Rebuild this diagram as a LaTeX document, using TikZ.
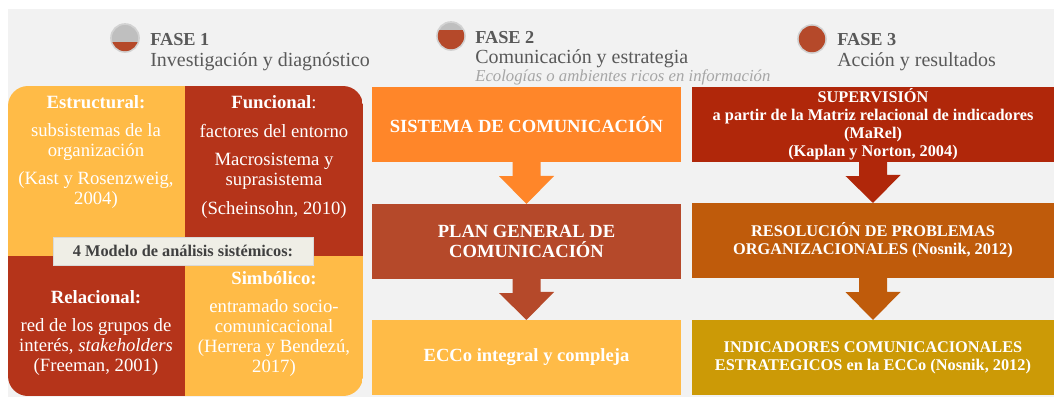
\documentclass[tikz,border=0pt]{standalone}
\usepackage{fontspec}
\setmainfont{Liberation Serif}
\usetikzlibrary{calc}
\definecolor{fondo}{HTML}{F2F2F2}
\definecolor{amarillo}{HTML}{FFBB47}
\definecolor{rojo}{HTML}{B5341A}
\definecolor{naranja}{HTML}{FF8629}
\definecolor{teja}{HTML}{B5492A}
\definecolor{rojoB}{HTML}{B0270A}
\definecolor{ocre}{HTML}{BF5B0B}
\definecolor{mostaza}{HTML}{CC9A06}
\definecolor{gristexto}{HTML}{595959}
\definecolor{grisclaro}{HTML}{A6A6A6}
\definecolor{crema}{HTML}{EFEEE6}
\tikzset{
	quad/.style={text=white, align=center, font=\fontsize{13.3}{14.2}\selectfont},
	midbox/.style={minimum width=7.725cm, minimum height=1.875cm, inner sep=0pt, outer sep=0pt,
		text=white, align=center, font=\bfseries\fontsize{13.2}{13.8}\selectfont},
	rightbox/.style={minimum width=9.05cm, minimum height=1.875cm, inner sep=0pt, outer sep=0pt,
		text=white, align=center, font=\bfseries\fontsize{11.6}{12.8}\selectfont},
	fase/.style={anchor=base west, inner sep=0pt, text=gristexto, font=\bfseries\fontsize{13}{15}\selectfont},
	subfase/.style={anchor=base west, inner sep=0pt, text=gristexto, font=\fontsize{14.2}{15}\selectfont},
	dot/.style={circle, minimum size=0.7cm, inner sep=0pt, fill=gray!50, draw=gray!35, line width=1.2pt},
}
\begin{document}
\begin{tikzpicture}[x=0.025cm,y=-0.025cm]
	\useasboundingbox (0,0) rectangle (1054,397);
	\fill[fondo] (8,9) rectangle (1054,397);

	% fases
	\node[dot] (d1) at (125,38) {};
	\node[dot] (d2) at (451,36) {};
	\node[dot] (d3) at (812,39) {};
	\begin{scope}
		\clip (d1.center) circle (0.33cm);
		\fill[teja] ($(d1.center)+(-15,4)$) rectangle ($(d1.center)+(15,15)$);
	\end{scope}
	\begin{scope}
		\clip (d2.center) circle (0.33cm);
		\fill[teja] ($(d2.center)+(-15,-6)$) rectangle ($(d2.center)+(15,15)$);
	\end{scope}
	\fill[teja] (d3.center) circle (0.33cm);

	\node[fase] (f1) at (150,45) {FASE 1};
	\node[subfase] (s1) at (150,66) {Investigación y diagnóstico};
	\node[fase] (f2) at (475,43) {FASE 2};
	\node[subfase] (s2) at (475,63) {Comunicación y estrategia};
	\node[subfase, text=grisclaro, font=\itshape\fontsize{11.9}{13}\selectfont] (e2) at (475,81) {Ecologías o ambientes ricos en información};
	\node[fase] (f3) at (837,45) {FASE 3};
	\node[subfase] (s3) at (837,66) {Acción y resultados};

	% fase 1: cuadrantes
	\begin{scope}
		\clip[rounded corners=0.5cm] (8,86) rectangle (363,396);
		\fill[amarillo] (8,86) rectangle (185,256);
		\fill[rojo] (185,86) rectangle (363,256);
		\fill[rojo] (8,256) rectangle (185,396);
		\fill[amarillo] (185,256) rectangle (363,396);
	\end{scope}
	\node[quad] (q1) at (96,152) {\textbf{Estructural:}\\[6pt] subsistemas de la\\ organización\\[6pt] (Kast y Rosenzweig,\\ 2004)};
	\node[quad] (q2) at (274,157) {\textbf{Funcional}:\\[6pt] factores del entorno\\[6pt] Macrosistema y\\ suprasistema\\[6pt] (Scheinsohn, 2010)};
	\node[quad] (q3) at (96,333) {\textbf{Relacional:}\\[6pt] red de los grupos de\\ interés, \textit{stakeholders}\\ (Freeman, 2001)};
	\node[quad] (q4) at (274,324) {\textbf{Simbólico:}\\[6pt] entramado socio-\\ comunicacional\\ (Herrera y Bendezú,\\ 2017)};
	\node[minimum width=6.5cm, minimum height=0.7cm, fill=crema, draw=gray!30, text=black!75,
		font=\bfseries\fontsize{11.6}{12}\selectfont] (modelo) at (183,251) {4 Modelo de análisis sistémicos:};

	% fase 2
	\node[midbox, fill=naranja] (sis) at (526.5,124.5) {SISTEMA DE COMUNICACIÓN};
	\node[midbox, fill=teja] (plan) at (526.5,241.5) {PLAN GENERAL DE\\ COMUNICACIÓN};
	\node[midbox, fill=amarillo] (ecco) at (526.5,357.5) {ECCo integral y compleja};
	\fill[naranja] (sis.south) ++(-14,0) -- ++(0,14) -- ++(-13.5,0) -- (plan.north) -- ++(27.5,-28) -- ++(-13.5,0) -- ++(0,-14) -- cycle;
	\fill[teja] (plan.south) ++(-14,0) -- ++(0,14) -- ++(-13.5,0) -- (ecco.north) -- ++(27.5,-28) -- ++(-13.5,0) -- ++(0,-14) -- cycle;

	% fase 3
	\node[rightbox, fill=rojoB] (sup) at (873,124.5) {SUPERVISIÓN\\ a partir de la Matriz relacional de indicadores\\ (MaRel)\\ (Kaplan y Norton, 2004)};
	\node[rightbox, fill=ocre] (res) at (873,240.5) {RESOLUCIÓN DE PROBLEMAS\\ ORGANIZACIONALES (Nosnik, 2012)};
	\node[rightbox, fill=mostaza] (ind) at (873,357.5) {INDICADORES COMUNICACIONALES\\ ESTRATEGICOS en la ECCo (Nosnik, 2012)};
	\fill[rojoB] (sup.south) ++(-14,0) -- ++(0,14) -- ++(-13.5,0) -- (res.north) -- ++(27.5,-28) -- ++(-13.5,0) -- ++(0,-14) -- cycle;
	\fill[ocre] (res.south) ++(-14,0) -- ++(0,14) -- ++(-13.5,0) -- (ind.north) -- ++(27.5,-28) -- ++(-13.5,0) -- ++(0,-14) -- cycle;
\end{tikzpicture}
\end{document}
